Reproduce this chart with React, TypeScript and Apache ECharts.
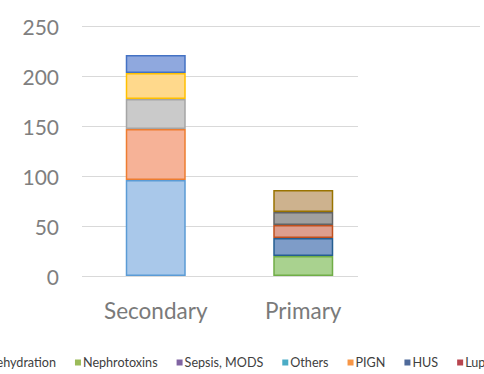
import React, { useEffect, useRef } from "react";
import * as echarts from "echarts";

// Categories on the x axis
const categories = ["Secondary", "Primary"];

// Stacked segments, bottom to top. Secondary causes fill the first bar, primary causes the second.
const seriesNames = [
  "Asphyxia",
  "Dehydration",
  "Nephrotoxins",
  "Sepsis, MODS",
  "Others",
  "PIGN",
  "HUS",
  "Lupus nephritis",
  "RPGN",
  "Obstructive uropathy",
];
const secondaryValues = [96, 51, 30, 26, 18, null, null, null, null, null];
const primaryValues = [null, null, null, null, null, 20, 18, 13, 13, 22];

// Bar outline colours and lighter fills
const barBorders = ["#5B9BD5", "#ED7D31", "#A5A5A5", "#FFC000", "#4472C4", "#70AD47", "#255E91", "#C0501E", "#636363", "#997300"];
const barFills = ["#A9C8EA", "#F6B297", "#CACACA", "#FFD98C", "#8FA8DE", "#A9D28F", "#7E9CC8", "#DE9E8E", "#A0A0A0", "#CDB28E"];

// Swatch colour of each series in the legend
const legendColors = ["#4F81BD", "#C0504D", "#9BBB59", "#8064A2", "#4BACC6", "#F79646", "#4F6A9A", "#B8454F", "#7F9A48", "#6B5A8A"];

// Legend entries shown under the chart
const legendNames = ["Dehydration", "Nephrotoxins", "Sepsis, MODS", "Others", "PIGN", "HUS", "Lupus nephritis"];

// Y axis range and step
const yMin = 0;
const yMax = 250;
const yStep = 50;

const FONT = "Lato, 'Noto Sans', sans-serif";

export default function App() {
  const ref = useRef<HTMLDivElement>(null);

  useEffect(() => {
    if (!ref.current) return;
    const chart = echarts.init(ref.current, undefined, { renderer: "svg" });

    const series = seriesNames.map((name, i) => {
      const segStyle = {
        color: barFills[i],
        borderColor: barBorders[i],
        borderWidth: 1.5,
      };
      const cell = (v: number | null) => (v == null ? "-" : { value: v, itemStyle: segStyle });
      return {
        name,
        type: "bar",
        stack: "total",
        xAxisIndex: 0,
        yAxisIndex: 0,
        barWidth: 60,
        itemStyle: { color: legendColors[i], borderWidth: 0 },
        data: [cell(secondaryValues[i]), cell(primaryValues[i])],
      };
    });

    chart.setOption({
      animation: false,
      backgroundColor: "#ffffff",
      textStyle: { fontFamily: FONT },
      grid: [
        { left: 82, top: 26, width: 295, height: 250 },
        { left: 82, top: 26, width: 276, height: 250 },
        { left: 82, top: 26, width: 398, height: 250 },
      ],
      xAxis: [
        {
          type: "category",
          gridIndex: 0,
          data: categories,
          axisLine: { show: false },
          axisTick: { show: false },
          axisLabel: { color: "#7a7a7a", fontSize: 22.5, margin: 23, fontFamily: FONT },
        },
        { type: "value", gridIndex: 1, show: false, min: 0, max: 1 },
        { type: "value", gridIndex: 2, show: false, min: 0, max: 1 },
      ],
      yAxis: [
        {
          type: "value",
          gridIndex: 0,
          min: yMin,
          max: yMax,
          interval: yStep,
          axisLabel: { show: false },
          axisLine: { show: false },
          axisTick: { show: false },
          splitLine: { show: false },
        },
        {
          type: "value",
          gridIndex: 1,
          min: yMin,
          max: yMax,
          interval: yStep,
          axisLine: { show: false },
          axisTick: { show: false },
          axisLabel: { color: "#7f7f7f", fontSize: 21, margin: 23, fontFamily: FONT },
          splitLine: { lineStyle: { color: "#d9d9d9", width: 1 } },
        },
        {
          type: "value",
          gridIndex: 2,
          min: yMin,
          max: yMax,
          interval: yMax,
          axisLine: { show: false },
          axisTick: { show: false },
          axisLabel: { show: false },
          splitLine: { lineStyle: { color: ["rgba(0,0,0,0)", "#d9d9d9"], width: 1 } },
        },
      ],
      legend: {
        left: -26,
        top: 351,
        width: 800,
        itemWidth: 6,
        itemHeight: 6,
        itemGap: 19,
        icon: "rect",
        itemStyle: { borderWidth: 0 },
        textStyle: { color: "#404040", fontSize: 12.6, fontFamily: FONT, padding: [0, 0, 0, -3] },
        data: legendNames,
      },
      series,
    });

    return () => chart.dispose();
  }, []);

  return (
    <div
      ref={ref}
      style={{ position: "fixed", left: 0, top: 0, width: 484, height: 374 }}
    />
  );
}
